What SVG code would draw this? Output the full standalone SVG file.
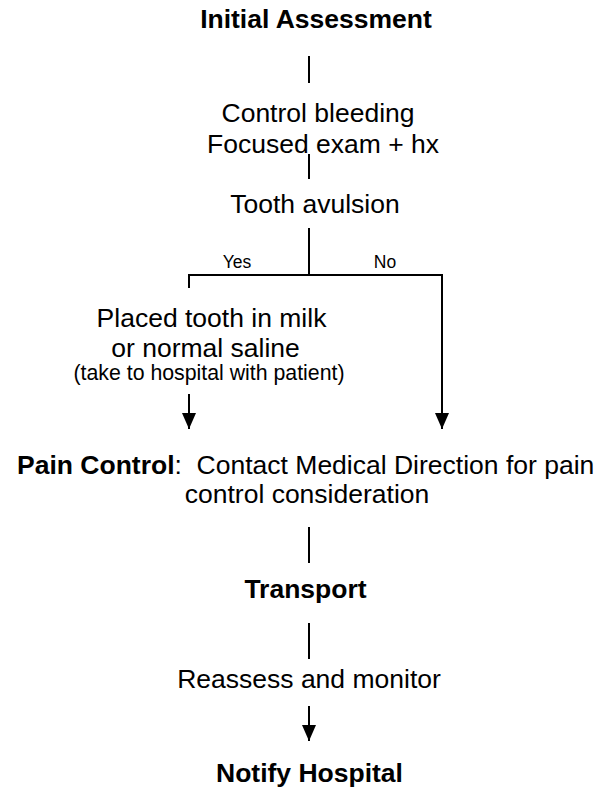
<svg xmlns="http://www.w3.org/2000/svg" width="598" height="789" viewBox="0 0 598 789">
  <style>
    text { font-family: "Liberation Sans", Arial, sans-serif; fill: #000; }
    .t { font-size: 26.5px; text-anchor: middle; }
    .b { font-weight: bold; }
    .s { font-size: 17.5px; text-anchor: middle; }
    .n { font-size: 21.3px; text-anchor: middle; }
    .ln { stroke: #000; stroke-width: 2; fill: none; }
  </style>
  <defs>
    <marker id="arrow" markerUnits="userSpaceOnUse" markerWidth="16" markerHeight="14" refX="16" refY="7" orient="auto">
      <path d="M0,0 L16,7 L0,14 Z" fill="#000"/>
    </marker>
  </defs>

  <!-- connectors -->
  <g id="connectors">
    <line class="ln" x1="309" y1="56" x2="309" y2="83"/>
    <line class="ln" x1="309" y1="154" x2="309" y2="179"/>
    <line class="ln" x1="309" y1="228" x2="309" y2="275"/>
    <polyline class="ln" points="189,288 189,275 442,275 442,429" marker-end="url(#arrow)"/>
    <line class="ln" x1="189" y1="394" x2="189" y2="429" marker-end="url(#arrow)"/>
    <line class="ln" x1="309" y1="527" x2="309" y2="563"/>
    <line class="ln" x1="309" y1="623" x2="309" y2="659"/>
    <line class="ln" x1="309" y1="706" x2="309" y2="741" marker-end="url(#arrow)"/>
    <text class="s" x="237" y="268">Yes</text>
    <text class="s" x="385" y="268">No</text>
  </g>

  <g id="initial-assessment">
    <text class="t b" x="316" y="28">Initial Assessment</text>
  </g>

  <g id="control-bleeding">
    <text class="t" x="318" y="122">Control bleeding</text>
    <text class="t" x="323" y="153">Focused exam + hx</text>
  </g>

  <g id="tooth-avulsion">
    <text class="t" x="315" y="213">Tooth avulsion</text>
  </g>

  <g id="placed-tooth">
    <text class="t" x="211.5" y="327">Placed tooth in milk</text>
    <text class="t" x="205.5" y="357">or normal saline</text>
    <text class="n" x="209" y="380">(take to hospital with patient)</text>
  </g>

  <g id="pain-control">
    <text x="17" y="474" font-size="26.5" xml:space="preserve"><tspan font-weight="bold">Pain Control</tspan>:  Contact Medical Direction for pain</text>
    <text class="t" x="307" y="503">control consideration</text>
  </g>

  <g id="transport">
    <text class="t b" x="305.5" y="598">Transport</text>
  </g>

  <g id="reassess">
    <text class="t" x="309" y="688">Reassess and monitor</text>
  </g>

  <g id="notify-hospital">
    <text class="t b" x="309.5" y="782">Notify Hospital</text>
  </g>
</svg>
